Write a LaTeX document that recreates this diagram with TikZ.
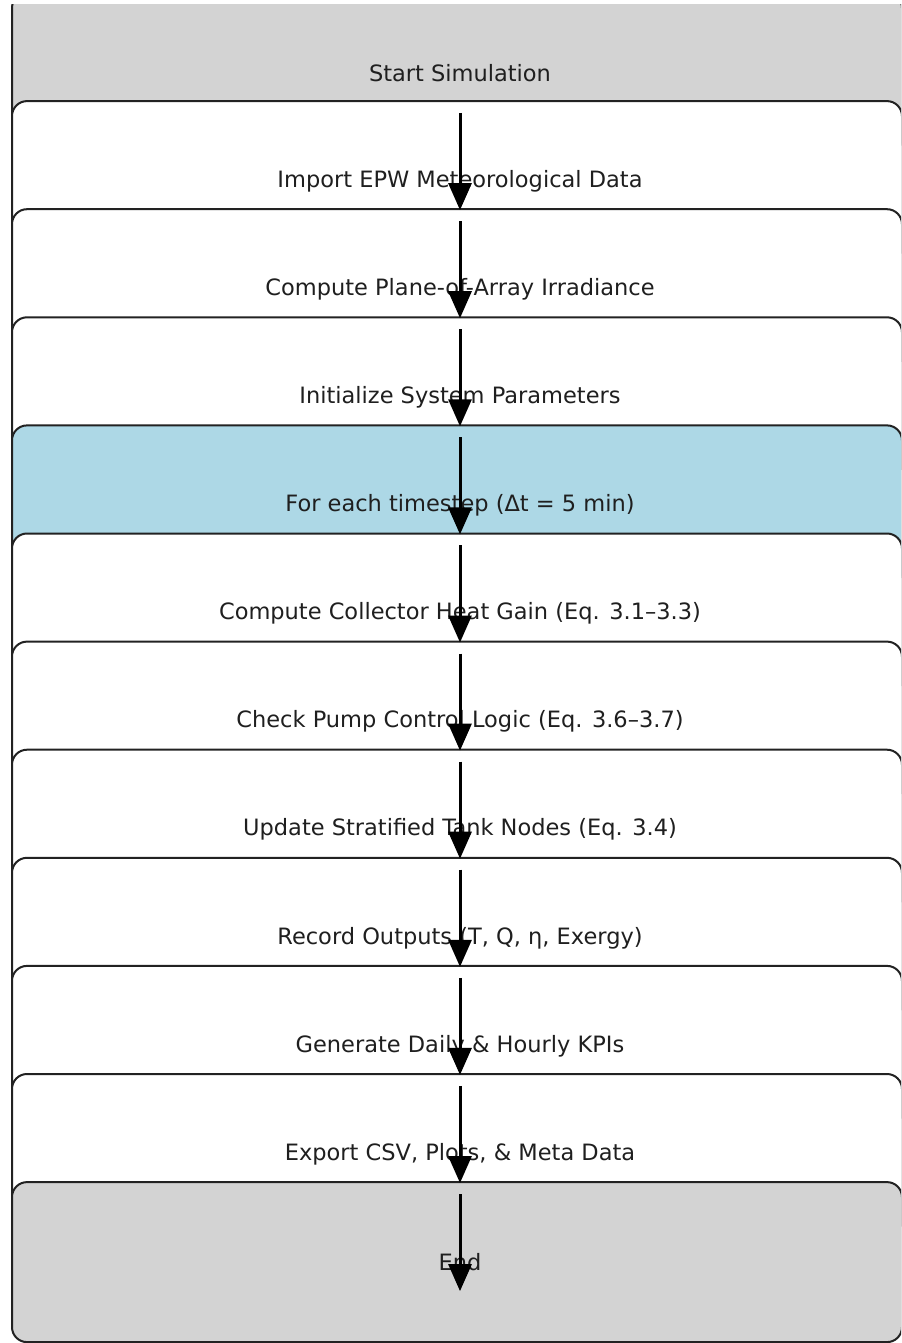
\documentclass[tikz,border=0pt]{standalone}
\usepackage{fontspec}
\setmainfont{DejaVu Sans}
\usetikzlibrary{arrows.meta,calc}
\definecolor{boxgray}{HTML}{D3D3D3}
\definecolor{boxblue}{HTML}{ADD8E6}
\definecolor{edge}{HTML}{222222}
\tikzset{
  flowbox/.style={draw=edge, line width=1pt, rounded corners=7.5pt, fill=white,
    minimum width=445pt, minimum height=80pt, inner sep=0pt,
    font=\fontsize{11.25pt}{13pt}\selectfont, text=black!88,
    execute at begin node={\hspace*{3pt}}},
  grayfill/.style={fill=boxgray},
  bluefill/.style={fill=boxblue},
  flowarrow/.style={line width=1.5pt, -{Triangle[width=11.5pt,length=13.5pt]}}
}
\begin{document}
\begin{tikzpicture}[x=0.5pt,y=-0.5pt]
\useasboundingbox (0,0) rectangle (901,1343);
\begin{scope}
\clip (0,5) rectangle (901,1343);
\node[flowbox,grayfill] (b0) at (457,73) {Start Simulation};
\node[flowbox] (b1) at (457,181.1) {Import EPW Meteorological Data};
\node[flowbox] (b2) at (457,289.2) {Compute Plane-of-Array Irradiance};
\node[flowbox] (b3) at (457,397.3) {Initialize System Parameters};
\node[flowbox,bluefill] (b4) at (457,505.4) {For each timestep (Δt = 5 min)};
\node[flowbox] (b5) at (457,613.5) {Compute Collector Heat Gain (Eq. 3.1–3.3)};
\node[flowbox] (b6) at (457,721.6) {Check Pump Control Logic (Eq. 3.6–3.7)};
\node[flowbox] (b7) at (457,829.7) {Update Stratified Tank Nodes (Eq. 3.4)};
\node[flowbox] (b8) at (457,937.8) {Record Outputs (T, Q, η, Exergy)};
\node[flowbox] (b9) at (457,1045.9) {Generate Daily \& Hourly KPIs};
\node[flowbox] (b10) at (457,1154) {Export CSV, Plots, \& Meta Data};
\node[flowbox,grayfill] (b11) at (457,1262.1) {End};
\end{scope}
\foreach \a/\b in {b0/b1,b1/b2,b2/b3,b3/b4,b4/b5,b5/b6,b6/b7,b7/b8,b8/b9,b9/b10,b10/b11}{
  \draw[flowarrow] ($(\a.center)+(3,40)$) -- ($(\b.center)+(3,29)$);
}
\end{tikzpicture}
\end{document}
